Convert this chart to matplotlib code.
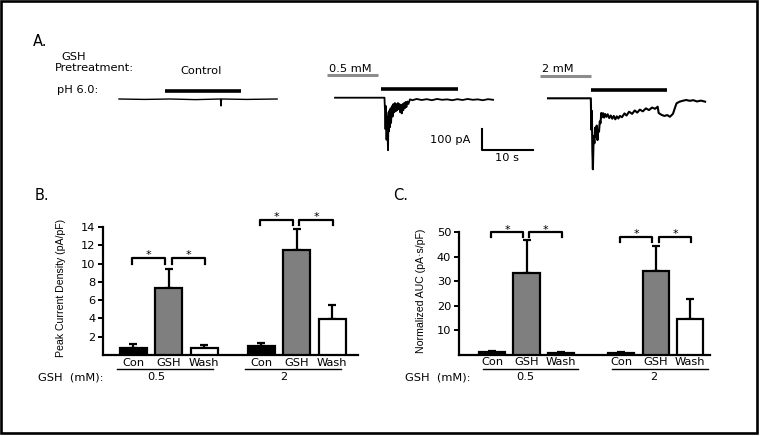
import matplotlib
matplotlib.use('Agg')
import matplotlib.pyplot as plt
from matplotlib.patches import Rectangle

W, H = 761, 436

# panel A: whole-cell traces, time (s) and current (pA)
ctrl_t = [0, 5, 10, 15, 19.9, 20.0, 20.1, 25, 31]
ctrl_i = [0, -2, 0, -3, 0, -33, 0, -2, 0]

gsh05_t = [0, 9.7, 9.8, 9.9, 10.0, 10.1, 10.2, 10.3, 10.4, 10.5, 10.6, 10.7, 10.8, 10.9,
           11.0, 11.15, 11.3, 11.45, 11.6, 11.75, 11.9, 12.05, 12.2, 12.35, 12.5, 12.65,
           12.8, 12.95, 13.1, 13.25, 13.4, 13.55, 13.7, 13.85, 14.0, 14.2, 14.4, 14.7, 15.2,
           16, 17, 18, 19, 20, 21, 22, 23, 24, 25, 26, 27, 28, 29, 30, 31]
gsh05_i = [0, 0, -60, -150, -40, -200, -90, -180, -250, -70, -160, -60, -140, -50,
           -120, -40, -90, -30, -70, -25, -65, -30, -60, -25, -55, -30,
           -70, -35, -75, -30, -60, -25, -50, -20, -45, -18, -30, -8, -12,
           -6, -11, -7, -12, -6, -10, -8, -12, -7, -11, -6, -10, -8, -12, -7, -10]

gsh2_t = [0, 8.4, 8.5, 8.6, 8.7, 8.8, 8.95, 9.1, 9.25, 9.4, 9.55, 9.7, 9.85, 10.0, 10.15,
          10.3, 10.45, 10.6, 10.8, 11.0, 11.2, 11.45, 11.7, 12.0, 12.3, 12.6, 12.9, 13.2,
          13.5, 13.8, 14.1, 14.5, 15.0, 15.4, 15.9, 16.5, 17.0, 17.5, 18.0, 18.6, 19.2,
          19.8, 20.4, 21.0, 21.5, 21.7, 22.2, 22.8, 23.4, 23.9, 24.5, 24.9, 25.2, 25.8,
          26.4, 27.1, 27.8, 28.5, 29.2, 30.0, 30.8]
gsh2_i = [0, 0, -150, -60, -250, -338, -180, -214, -140, -183, -130, -199, -150, -159, -110,
          -119, -70, -90, -71, -92, -75, -88, -76, -94, -82, -97, -84, -100,
          -86, -96, -84, -90, -72, -82, -64, -74, -58, -68, -54, -62, -48,
          -56, -44, -50, -40, -70, -78, -84, -80, -88, -74, -45, -24, -16,
          -12, -8, -12, -9, -15, -11, -16]

# pH 6.0 application and GSH pretreatment windows (s)
ph_on = [(9.0, 23.9), (9.0, 24.1), (8.4, 23.3)]
pretreat = [None, (-1.6, 8.4), (-1.6, 8.4)]
pretreat_labels = ['Control', '0.5 mM', '2 mM']
scale_t, scale_i = 10, 100

# panels B and C
groups = ['Con', 'GSH', 'Wash']
doses = ['0.5', '2']
peak_mean = [0.75, 7.3, 0.75, 1.0, 11.45, 3.9]
peak_sem = [0.42, 2.1, 0.3, 0.28, 2.35, 1.57]
auc_mean = [1.15, 33.4, 0.5, 0.5, 34.2, 14.4]
auc_sem = [0.35, 13.3, 0.45, 0.35, 10.1, 8.2]
bar_colors = ['black', '#7f7f7f', 'white'] * 2

FONT = 'DejaVu Sans'
SMALL = 8.2


def px_axes(fig, left, top, right, bottom):
        return fig.add_axes([left / W, 1 - bottom / H, (right - left) / W, (bottom - top) / H])


def trace_axes(fig, x0, ybase):
        # 5.1 px per s, 0.21 px per pA
        xl, yl = (-2, 32), (-400, 150)
        ax = px_axes(fig, x0 + xl[0] * 5.1, ybase - yl[1] * 0.21,
                     x0 + xl[1] * 5.1, ybase - yl[0] * 0.21)
        ax.set_xlim(xl)
        ax.set_ylim(yl)
        ax.axis('off')
        return ax


def bar_panel(ax, pos, means, sems, ylim, yticks, brk_h, brk_leg, line_span, dose_x,
              line_y, dose_y):
        ax.bar(pos, means, width=0.76, color=bar_colors, edgecolor='black',
               linewidth=1.6, zorder=3)
        ax.errorbar(pos, means, yerr=[[0] * len(sems), sems], fmt='none', ecolor='black',
                    elinewidth=1.6, capsize=3, capthick=1.6, zorder=2)
        ax.set_ylim(ylim)
        ax.set_yticks(yticks)
        ax.set_xticks(pos)
        ax.set_xticklabels(groups * 2, fontsize=SMALL, family=FONT)
        ax.tick_params(axis='x', length=0, pad=2)
        ax.tick_params(axis='y', length=3.5, width=1.4, labelsize=SMALL, pad=2)
        for lab in ax.get_yticklabels():
                lab.set_family(FONT)
        for s in ['top', 'right']:
                ax.spines[s].set_visible(False)
        for s in ['left', 'bottom']:
                ax.spines[s].set_linewidth(1.6)

        tr = ax.get_xaxis_transform()
        for g in range(2):
                p0 = pos[3 * g]
                h, leg = brk_h[g], brk_leg[g]
                # significance brackets
                for a, b in [(-0.03, 0.9), (1.08, 2.03)]:
                        ax.plot([p0 + a, p0 + a, p0 + b, p0 + b], [h - leg, h, h, h - leg],
                                color='black', lw=1.6, clip_on=False)
                        ax.text(p0 + (a + b) / 2, h + leg * 0.55, '*', ha='center', va='center',
                                fontsize=8, family=FONT)
                # dose underline
                ax.plot([p0 + line_span[0], p0 + line_span[1]], [line_y, line_y], color='black',
                        lw=1, transform=tr, clip_on=False)
                ax.text(p0 + dose_x, dose_y, doses[g], ha='center', va='center', transform=tr,
                        fontsize=SMALL, family=FONT)


fig = plt.figure(figsize=(W / 100, H / 100), dpi=100)

# overlay in pixel units for border and labels
ov = fig.add_axes([0, 0, 1, 1])
ov.set_xlim(0, W)
ov.set_ylim(H, 0)
ov.axis('off')
ov.add_patch(Rectangle((1.2, 1.2), 756, 432, fill=False, edgecolor='black', lw=1.9))

ov.text(33, 41, 'A.', fontsize=10.5, family=FONT, va='center')
ov.text(35, 195, 'B.', fontsize=10.5, family=FONT, va='center')
ov.text(393, 195, 'C.', fontsize=10.5, family=FONT, va='center')
ov.text(74, 57.5, 'GSH', fontsize=SMALL, family=FONT, ha='center', va='center')
ov.text(55, 68, 'Pretreatment:', fontsize=SMALL, family=FONT, va='center')
ov.text(57, 90, 'pH 6.0:', fontsize=SMALL, family=FONT, va='center')
ov.text(38, 377, 'GSH  (mM):', fontsize=SMALL, family=FONT, va='center')
ov.text(405, 377, 'GSH  (mM):', fontsize=SMALL, family=FONT, va='center')
ov.text(61, 288, 'Peak Current Density (pA/pF)', rotation=90, fontsize=7.6,
        family='Liberation Sans', ha='center', va='center')
ov.text(421, 291, 'Normalized AUC (pA\u00b7s/pF)', rotation=90, fontsize=7.6,
        family='Liberation Sans', ha='center', va='center')

# traces
traces = [(ctrl_t, ctrl_i, 119, 99.0, 1.0), (gsh05_t, gsh05_i, 335, 97.7, 1.3),
          (gsh2_t, gsh2_i, 548, 98.3, 1.5)]
for k, (t, i, x0, yb, lw) in enumerate(traces):
        ax = trace_axes(fig, x0, yb)
        ax.plot(t, i, color='black', lw=lw, clip_on=False)
        ax.plot(ph_on[k], [40, 40], color='black', lw=2.6, solid_capstyle='butt')
        if pretreat[k] is None:
                ax.text(12.0, 132, pretreat_labels[k], fontsize=SMALL, family=FONT, va='center')
        else:
                ax.plot(pretreat[k], [108, 108], color='#8c8c8c', lw=2.2, solid_capstyle='butt',
                        clip_on=False)
                ax.text(-1.1, 138, pretreat_labels[k], fontsize=SMALL, family=FONT, va='center',
                        clip_on=False)
        if k == 1:
                # scale bar
                sx, sy = 28.8, -251
                ax.plot([sx, sx, sx + scale_t], [sy + scale_i, sy, sy], color='black', lw=1.5,
                        clip_on=False)
                ax.text(sx - 2.3, sy + scale_i / 2, '%d pA' % scale_i, ha='right', va='center',
                        fontsize=SMALL, family=FONT)
                ax.text(sx + scale_t / 2, sy - 36, '%d s' % scale_t, ha='center', va='center',
                        fontsize=SMALL, family=FONT)

# panel B
axb = px_axes(fig, 103, 227, 358, 355)
posb = [0, 1, 2, 3.6, 4.6, 5.6]
axb.set_xlim(-0.85, 6.33)
bar_panel(axb, posb, peak_mean, peak_sem, (0, 14), range(2, 15, 2),
          [10.6, 14.8], [0.65, 0.6], (-0.45, 2.24), 0.65, -0.112, -0.17)

# panel C
axc = px_axes(fig, 459, 232, 710, 354.5)
posc = [0, 1, 2, 3.75, 4.75, 5.75]
axc.set_xlim(-0.96, 6.32)
bar_panel(axc, posc, auc_mean, auc_sem, (0, 50), range(10, 51, 10),
          [49.9, 48.1], [1.9, 2.1], (-0.26, 2.5), 0.95, -0.121, -0.181)

fig.savefig('out.png', dpi=100)
